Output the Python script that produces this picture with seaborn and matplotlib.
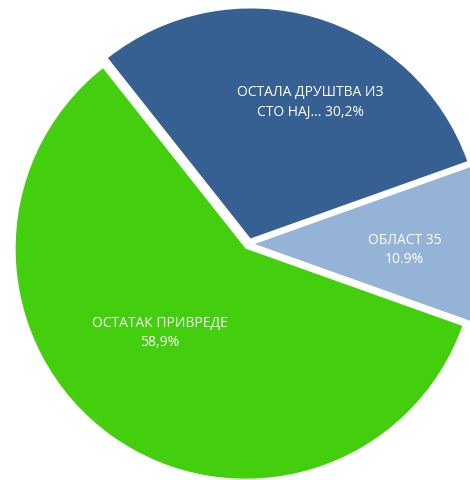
import numpy as np
import matplotlib
matplotlib.use("Agg")
import matplotlib.pyplot as plt
import seaborn as sns

# podaci
kategorije = ["ОБЛАСТ 35", "ОСТАЛА ДРУШТВА ИЗ\nСТО НАЈ...", "ОСТАТАК ПРИВРЕДЕ"]
vrednosti = [10.9, 30.2, 58.9]
procenti = ["10.9%", "30,2%", "58,9%"]
boje = ["#95B3D7", "#376092", "#43CF0E"]

sns.set_theme(style="white")
plt.rcParams["font.family"] = ["Open Sans", "DejaVu Sans"]

fig = plt.figure(figsize=(4.70, 4.81), dpi=100)
ax = fig.add_axes([0, 0, 1, 1])

start = -vrednosti[0] * 3.6 / 2
wedges, _ = ax.pie(vrednosti, colors=boje, startangle=start, counterclock=True,
                   explode=[0.025, 0.025, 0.025], radius=1.0,
                   wedgeprops=dict(linewidth=0))

# pozicije natpisa (udaljenost od centra, pomak ugla)
udaljenost = [0.653, 0.65, 0.52]
pomak = [-2, -7.5, -10]
tekstovi = [
    kategorije[0] + "\n" + procenti[0],
    "ОСТАЛА ДРУШТВА ИЗ\nСТО НАЈ... " + procenti[1],
    kategorije[2] + "\n" + procenti[2],
]
for w, r, d, t in zip(wedges, udaljenost, pomak, tekstovi):
    ang = np.deg2rad((w.theta1 + w.theta2) / 2 + d)
    cx, cy = w.center
    ax.text(cx + r * np.cos(ang), cy + r * np.sin(ang), t, ha="center", va="center",
            color="white", fontsize=10, linespacing=1.4)

ax.set_xlim(-249 / 230, (470 - 249) / 230)
ax.set_ylim(-(481 - 245) / 230, 245 / 230)
ax.set_aspect("auto")
ax.axis("off")

fig.savefig("out.png", dpi=100, facecolor="white")
